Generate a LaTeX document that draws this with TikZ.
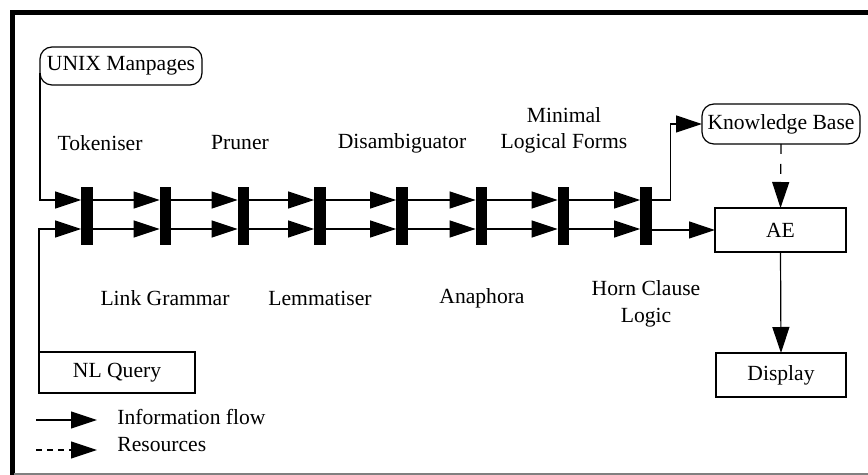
\documentclass[tikz,border=0pt]{standalone}
\usepackage{fontspec}
\setmainfont{Liberation Serif}
\usetikzlibrary{arrows.meta,calc}
\begin{document}
\begin{tikzpicture}[x=0.5pt,y=-0.5pt,
  every node/.style={font=\fontsize{10.8}{12.8}\selectfont},
  bar/.style={fill=black,draw=none,minimum width=5.8pt,minimum height=29pt,inner sep=0pt,outer sep=0pt},
  box/.style={draw,line width=0.6pt,inner sep=0pt,outer sep=0pt},
  stad/.style={box,rounded corners=6pt},
  flow/.style={line width=0.6pt,-{Triangle[length=13pt,width=8.5pt]}},
  res/.style={flow,dash pattern=on 5pt off 5pt},
  lres/.style={flow,dash pattern=on 3pt off 2.5pt},
  lbl/.style={align=center,inner sep=0pt}]
\useasboundingbox (0,0) rectangle (868,475);
% frame
\draw[line width=2.5pt] (12.5,476) -- (12.5,12.5) -- (869,12.5);
\draw[gray,line width=0.6pt] (14,474) -- (868,474);
% boxes
\node[stad,minimum width=81pt,minimum height=19pt] (unix) at (121,66) {UNIX Manpages};
\node[stad,minimum width=79pt,minimum height=20pt] (kb) at (781,124) {Knowledge Base};
\node[box,minimum width=65.5pt,minimum height=22pt] (ae) at (780.5,230) {AE};
\node[box,minimum width=65pt,minimum height=22pt] (disp) at (781,375) {Display};
\node[box,minimum width=78pt,minimum height=20.5pt] (nl) at (117,372.5) {NL Query};
% bars
\foreach \i/\x in {1/87,2/165.5,3/243.5,4/320,5/402,6/481.5,7/563.5,8/646}
  \node[bar] (b\i) at (\x,216) {};
\coordinate (T) at (0,200);
\coordinate (B) at (0,229);
\foreach \i in {1,...,7}{
  \pgfmathtruncatemacro{\j}{\i+1}
  \draw[flow] (b\i.east |- T) -- (b\j.west |- T);
  \draw[flow] (b\i.east |- B) -- (b\j.west |- B);
}
\draw[flow] ([yshift=6pt]unix.south west) |- (b1.west |- T);
\draw[flow] (nl.north west) |- (b1.west |- B);
\draw[flow] (b8.east |- T) -- ++(19,0) |- (kb.west);
\draw[flow] (b8.east |- ae.west) -- (ae.west);
\draw[res] (kb.south) -- (ae.north);
\draw[flow] (ae.south) -- (disp.north);
% labels
\node[lbl] (tok) at (100,143) {Tokeniser};
\node[lbl] (pru) at (240,143) {Pruner};
\node[lbl] (dis) at (402,143) {Disambiguator};
\node[lbl] (mlf) at (564,130.5) {Minimal\\Logical Forms};
\node[lbl] (lg) at (165,298) {Link Grammar};
\node[lbl] (lem) at (320,298) {Lemmatiser};
\node[lbl] (ana) at (482,298) {Anaphora};
\node[lbl] (hcl) at (646,304) {Horn Clause\\[0.5pt]Logic};
% legend
\coordinate (l1a) at (36,420);
\coordinate (l1b) at (97,420);
\coordinate (l2a) at (36,450);
\coordinate (l2b) at (97,450);
\draw[flow] (l1a) -- (l1b);
\draw[lres] (l2a) -- (l2b);
\node[lbl,anchor=west] (inf) at (117,417) {Information flow};
\node[lbl,anchor=west] (resl) at (117,445) {Resources};
\end{tikzpicture}
\end{document}
